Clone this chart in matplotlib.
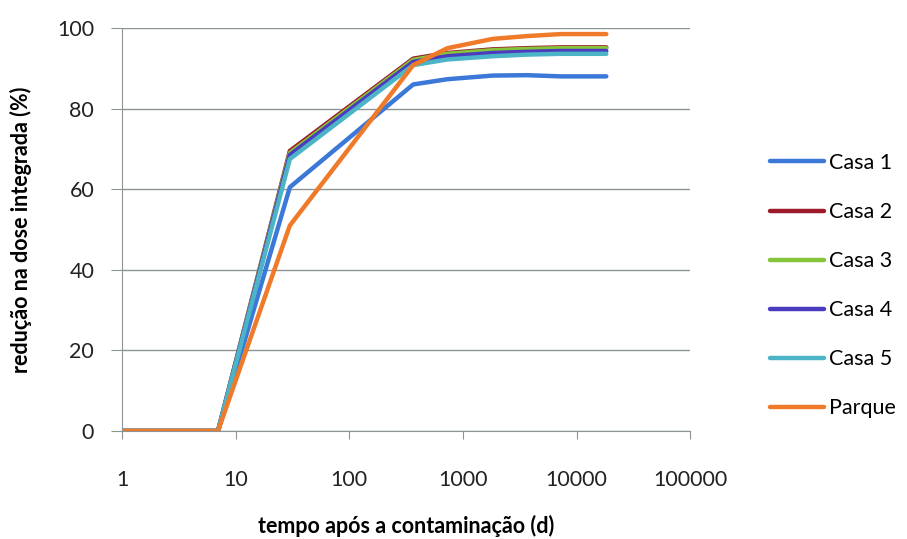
from matplotlib import pyplot as plt

plt.rcParams['font.family'] = ['Lato', 'DejaVu Sans']

# tempo (dias)
tempo = [1, 7, 30, 365, 730, 1825, 3650, 7300, 18250]

# reducao na dose integrada (%)
casa1 = [0, 0, 60.5, 86.0, 87.3, 88.2, 88.3, 88.0, 88.0]
casa2 = [0, 0, 69.5, 92.4, 93.8, 94.7, 95.0, 95.2, 95.2]
casa3 = [0, 0, 69.0, 92.1, 93.6, 94.5, 94.8, 95.0, 95.0]
casa4 = [0, 0, 68.5, 91.6, 93.0, 93.8, 94.1, 94.3, 94.3]
casa5 = [0, 0, 67.5, 90.8, 92.2, 93.0, 93.4, 93.6, 93.6]
parque = [0, 0, 51.0, 90.8, 95.0, 97.3, 98.0, 98.5, 98.5]

series = ['Casa 1', 'Casa 2', 'Casa 3', 'Casa 4', 'Casa 5', 'Parque']
cores = ['#3b78d8', '#9c1a2a', '#86c43a', '#4b3cbf', '#4bb4c6', '#ef7a2a']

fig = plt.figure(figsize=(9.07, 5.39), dpi=100)
ax = fig.add_axes([0.1345, 0.2004, 0.6265, 0.7476])

for nome, valores, cor in zip(series, [casa1, casa2, casa3, casa4, casa5, parque], cores):
    ax.plot(tempo, valores, '-', color=cor, lw=3.2, label=nome, solid_capstyle='round')

ax.set_xscale('log')
ax.set_xlim(1, 100000)
ax.set_ylim(0, 100)
ax.set_xticks([1, 10, 100, 1000, 10000, 100000])
ax.set_xticklabels(['1', '10', '100', '1000', '10000', '100000'])
ax.minorticks_off()
ax.set_yticks(range(0, 101, 20))

ax.grid(axis='y', color='#8c9494', lw=1.0)
ax.set_axisbelow(True)
for s in ['top', 'right']:
    ax.spines[s].set_visible(False)
for s in ['left', 'bottom']:
    ax.spines[s].set_color('#8c9494')
ax.tick_params(axis='x', length=6, color='#8c9494', pad=22, labelsize=15.5, labelcolor='#222222')
ax.tick_params(axis='y', length=8, color='#8c9494', pad=12, labelsize=15.5, labelcolor='#222222')

ax.set_xlabel('tempo após a contaminação (d)', fontsize=15.5, fontweight='bold', labelpad=18)
ax.set_ylabel('redução na dose integrada (%)', fontsize=15.5, fontweight='bold', labelpad=18)

fig.legend(loc='center left', bbox_to_anchor=(0.837, 0.47), frameon=False, fontsize=15.5,
           handlelength=2.5, handletextpad=0.25, labelspacing=1.35, borderpad=0)

plt.savefig('out.png', dpi=100)
